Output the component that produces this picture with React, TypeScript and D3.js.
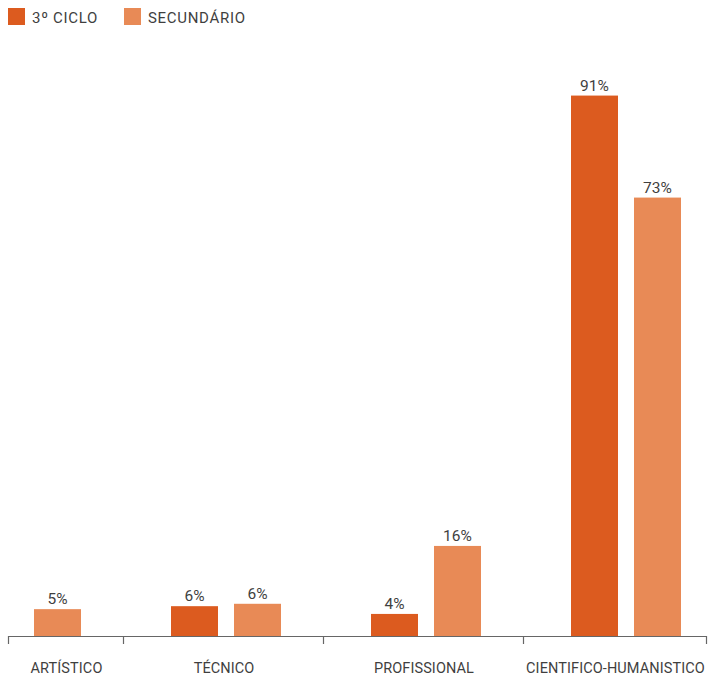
import React from "react";
import * as d3 from "d3";

const categories = ["ARTÍSTICO", "TÉCNICO", "PROFISSIONAL", "CIENTIFICO-HUMANISTICO"];
const seriesNames = ["3º CICLO", "SECUNDÁRIO"];
const ciclo3Values: (number | null)[] = [null, 5.0, 3.7, 90.6];
const secundarioValues: (number | null)[] = [4.5, 5.4, 15.1, 73.5];
const ciclo3Labels = ["", "6%", "4%", "91%"];
const secundarioLabels = ["5%", "6%", "16%", "73%"];

const colors = ["#DC5B1F", "#E88A56"];
const W = 708;
const H = 679;
const FONT = "Roboto, 'DejaVu Sans', sans-serif";

export default function App() {
  const plotLeft = 8;
  const plotRight = 706;
  const baseY = 636;

  const x0 = d3.scaleBand<string>().domain(categories).range([-77, 723]).paddingInner(0).paddingOuter(0);
  const x1 = d3
    .scaleBand<string>()
    .domain(seriesNames)
    .range([48, 158])
    .paddingInner(16 / 63)
    .paddingOuter(0);
  const y = d3.scaleLinear().domain([0, 100]).range([baseY, baseY - 596.5]);

  const series = [
    { name: seriesNames[0], values: ciclo3Values, labels: ciclo3Labels, color: colors[0] },
    { name: seriesNames[1], values: secundarioValues, labels: secundarioLabels, color: colors[1] },
  ];

  const boundaries = categories.slice(1).map((c) => x0(c)!);
  const ticks = [plotLeft, ...boundaries, plotRight];

  return (
    <svg width={W} height={H} style={{ position: "absolute", left: 0, top: 0 }} fontFamily={FONT}>
      {/* legend */}
      {series.map((s, i) => {
        const lx = i === 0 ? 8 : 124;
        return (
          <g key={s.name}>
            <rect x={lx} y={8} width={17} height={17} fill={s.color} />
            <text x={lx + 24} y={22.5} fontSize={15} fill="#3f3f3f" letterSpacing={0.7}>
              {s.name}
            </text>
          </g>
        );
      })}

      {/* bars */}
      {categories.map((c, ci) => (
        <g key={c}>
          {series.map((s) => {
            const v = s.values[ci];
            if (v == null) return null;
            const bx = x0(c)! + x1(s.name)!;
            const bw = x1.bandwidth();
            return (
              <g key={s.name}>
                <rect x={bx} y={y(v)} width={bw} height={baseY - y(v)} fill={s.color} />
                <text
                  x={bx + bw / 2}
                  y={y(v) - 5}
                  textAnchor="middle"
                  fontSize={15.5}
                  fill="#3f3f3f"
                >
                  {s.labels[ci]}
                </text>
              </g>
            );
          })}
        </g>
      ))}

      {/* axis */}
      <line x1={plotLeft} x2={plotRight} y1={baseY + 0.5} y2={baseY + 0.5} stroke="#666" strokeWidth={1.2} />
      {ticks.map((t, i) => (
        <line key={i} x1={t + 0.5} x2={t + 0.5} y1={baseY} y2={baseY + 8} stroke="#666" strokeWidth={1.2} />
      ))}
      {categories.map((c) => {
        const a = Math.max(plotLeft, x0(c)!);
        const b = Math.min(plotRight, x0(c)! + x0.bandwidth());
        return (
          <text key={c} x={(a + b) / 2 + 1} y={673} textAnchor="middle" fontSize={14.5} fill="#3f3f3f" letterSpacing={0.1}>
            {c}
          </text>
        );
      })}
    </svg>
  );
}
